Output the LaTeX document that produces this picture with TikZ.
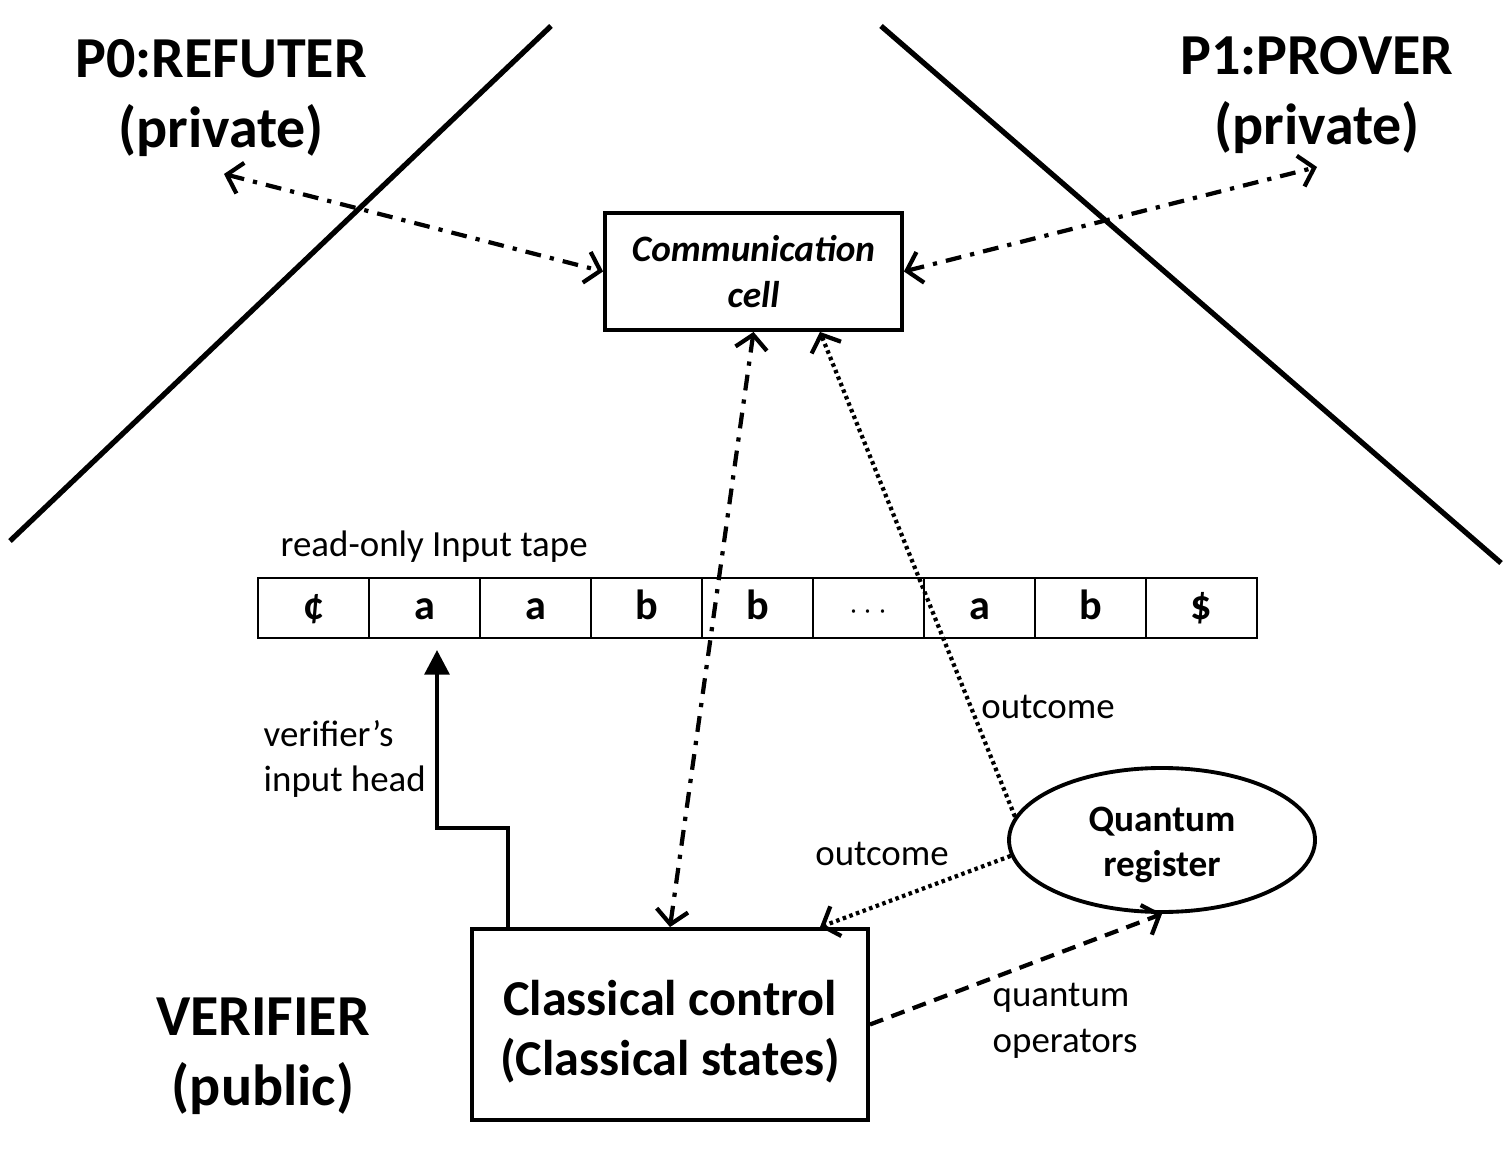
\documentclass[tikz,border=0pt]{standalone}
\usepackage{fontspec}
\setmainfont{Carlito}
\usetikzlibrary{arrows.meta,shapes.geometric,calc}
\begin{document}
\begin{tikzpicture}[x=1cm,y=1cm,
  >={Straight Barb[length=4pt,width=9pt,line width=1.2pt]},
  bigtitle/.style={font=\bfseries\fontsize{16.5}{19.8}\selectfont, align=center, inner sep=0pt},
  sidewall/.style={line width=1.5pt},
  boxline/.style={draw, line width=1.1pt},
  cellbox/.style={draw, line width=0.6pt, minimum width=1.11cm, minimum height=0.6cm, inner sep=0pt, outer sep=0pt,
     text height=1.6ex, text depth=0.2ex, font=\bfseries\fontsize{12}{14}\selectfont},
  dashdot/.style={line width=1.2pt, dash pattern=on 4.5pt off 2.6pt on 1.2pt off 2.6pt},
  dotline/.style={line width=1.2pt, dash pattern=on 1pt off 1pt},
  dashline/.style={line width=1.2pt, dash pattern=on 4pt off 2.5pt},
  lbl/.style={font=\fontsize{10.5}{13}\selectfont, inner sep=0pt, align=left}
]
\useasboundingbox (0,0) rectangle (15.11,-11.56);

% walls
\draw[sidewall] (0.10,-5.41) -- (5.51,-0.26);
\draw[sidewall] (8.81,-0.26) -- (15.01,-5.63);

% titles
\node[bigtitle] (p0) at (2.21,-0.98) {P0:REFUTER\\(private)};
\node[bigtitle] (p1) at (13.17,-0.95) {P1:PROVER\\(private)};
\node[bigtitle] (ver) at (2.63,-10.56) {VERIFIER\\(public)};

\coordinate (p0a) at (2.24,-1.74);
\coordinate (p1a) at (13.17,-1.67);

% communication cell
\node[boxline, minimum width=2.97cm, minimum height=1.17cm, inner sep=0pt, align=center,
      font=\bfseries\itshape\fontsize{10.6}{13}\selectfont] (comm) at (7.535,-2.715) {Communication\\cell};

% classical control
\node[boxline, minimum width=3.96cm, minimum height=1.91cm, inner sep=0pt] (cc) at (6.70,-10.245) {};
\node[align=center, inner sep=0pt, font=\bfseries\fontsize{14.3}{17}\selectfont] (cctext)
  at ([yshift=-0.07cm]cc.center) {Classical control\\(Classical states)};

% quantum register
\node[draw, ellipse, line width=1.1pt, minimum width=3.06cm, minimum height=1.44cm, inner sep=0pt] (qr) at (11.62,-8.40) {};
\node[align=center, inner sep=0pt, font=\bfseries\fontsize{10.6}{13}\selectfont] (qrtext)
  at ([yshift=-0.05cm]qr.center) {Quantum\\register};

% tape
\foreach \s [count=\i] in {¢,a,a,b,b,{\normalfont\small$\cdots$},a,b,\$} {
  \node[cellbox] (t\i) at ({3.135+1.11*(\i-1)},-6.08) {\s};
}
\node[lbl, anchor=west] (tapelbl) at (2.80,-5.47) {read-only Input tape};

% labels
\node[lbl, anchor=west] (headlbl) at (2.63,-7.59) {verifier’s\\input head};
\node[lbl] (out1) at (10.48,-7.07) {outcome};
\node[lbl] (out2) at (8.82,-8.54) {outcome};
\node[lbl, anchor=west] (qop) at (9.92,-10.21) {quantum\\operators};

% connectors
\draw[dashdot, <->] (p0a) -- (comm.west);
\draw[dashdot, <->] (comm.east) -- (p1a);
\draw[dashdot, <->] (comm.south) -- (cc.north);
\draw[dotline, ->] (qr.171) -- ([xshift=0.665cm]comm.south);
\draw[dotline, ->] (qr.186) -- ([xshift=1.5cm]cc.north);
\draw[dashline, ->] (cc.east) -- (qr.south);
\draw[line width=1.2pt, -{Triangle[length=7pt,width=7pt]}] ([xshift=-1.62cm]cc.north) -- ++(0,0.99) -| ([xshift=0.125cm,yshift=-0.12cm]t2.south);
\end{tikzpicture}
\end{document}
